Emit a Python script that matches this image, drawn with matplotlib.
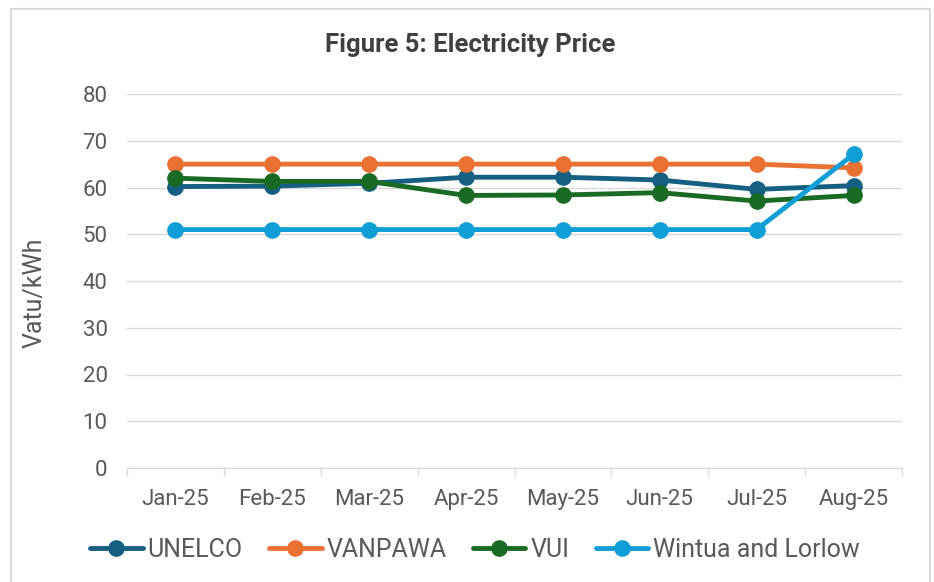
import matplotlib
matplotlib.use("Agg")
import matplotlib.pyplot as plt
from matplotlib.patches import Rectangle

plt.rcParams["font.family"] = ["Roboto", "DejaVu Sans"]

months = ["Jan-25", "Feb-25", "Mar-25", "Apr-25", "May-25", "Jun-25", "Jul-25", "Aug-25"]
unelco = [60.2, 60.3, 60.9, 62.2, 62.2, 61.6, 59.6, 60.4]
vanpawa = [65.0, 65.0, 65.0, 65.0, 65.0, 65.0, 65.0, 64.2]
vui = [62.0, 61.3, 61.3, 58.3, 58.4, 58.9, 57.1, 58.3]
wintua = [51.0, 51.0, 51.0, 51.0, 51.0, 51.0, 51.0, 67.1]

series = [
    ("UNELCO", unelco, "#156082"),
    ("VANPAWA", vanpawa, "#E97132"),
    ("VUI", vui, "#196B24"),
    ("Wintua and Lorlow", wintua, "#0F9ED5"),
]

W, H = 934, 582
fig = plt.figure(figsize=(W / 100, H / 100), dpi=100)
ax = fig.add_axes([127 / W, 1 - 468 / H, (902 - 127) / W, (468 - 94) / H])

x = list(range(len(months)))
for name, vals, col in series:
    ax.plot(x, vals, "-o", color=col, lw=3.5, ms=11, label=name, solid_capstyle="round")

ax.set_xlim(-0.5, len(months) - 0.5)
ax.set_ylim(0, 80)
ax.set_yticks(range(0, 81, 10))
ax.set_xticks(x)
ax.set_xticklabels(months)
# category boundary ticks like Excel
ax.set_xticks([i - 0.5 for i in range(len(months) + 1)], minor=True)
ax.tick_params(axis="x", which="major", length=0, pad=15, labelsize=16, colors="#595959")
ax.tick_params(axis="x", which="minor", length=6, color="#D9D9D9", width=1)
ax.tick_params(axis="y", length=0, pad=14, labelsize=16, colors="#595959")

ax.grid(axis="y", color="#D9D9D9", lw=1)
ax.set_axisbelow(True)
for s in ["top", "right", "left"]:
    ax.spines[s].set_visible(False)
ax.spines["bottom"].set_color("#D9D9D9")
ax.spines["bottom"].set_linewidth(1)

ax.set_ylabel("Vatu/kWh", fontsize=18, color="#595959")
ax.yaxis.set_label_coords((47 - 127) / (902 - 127), (468 - 293) / (468 - 94))
fig.text(470 / W, 1 - 45 / H, "Figure 5: Electricity Price", ha="center", va="center",
         fontsize=18.5, fontweight="bold", color="#404040")

fig.legend(loc="center", bbox_to_anchor=(475 / W, 1 - 550 / H), ncol=4, frameon=False,
           fontsize=18, handlelength=2.1, numpoints=1, columnspacing=1.05,
           handletextpad=0.2, labelcolor="#595959")

fig.patches.append(Rectangle((11 / W, -0.05), (930 - 11) / W, 1.05 - 9 / H,
                             transform=fig.transFigure, fill=False,
                             edgecolor="#D9D9D9", lw=1.5))

fig.savefig("out.png", dpi=100)
